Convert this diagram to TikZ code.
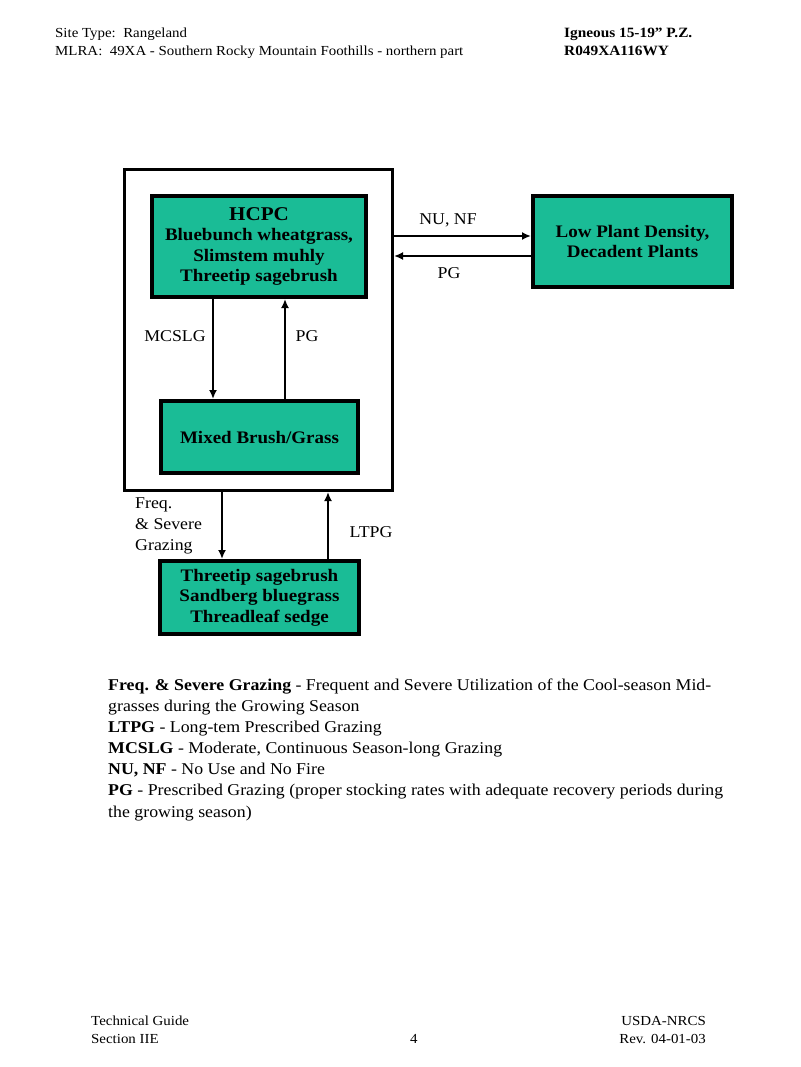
\documentclass[tikz,border=0pt]{standalone}
\usepackage{fontspec}
\setmainfont[FakeStretch=1.08]{Liberation Serif}
\usetikzlibrary{arrows.meta}
\definecolor{teal1}{RGB}{26,188,150}
\tikzset{
  state/.style={draw=black, line width=4pt, fill=teal1, align=center, font=\fontsize{17.6}{20.5}\selectfont\bfseries, inner sep=0pt},
  frame/.style={draw=black, line width=3pt},
  conn/.style={line width=2.8pt, -{Latex[length=9pt,width=8pt]}},
  lbl/.style={font=\fontsize{16.5}{21}\selectfont, inner sep=0pt},
  hdr/.style={font=\fontsize{13.8}{18}\selectfont, inner sep=0pt, anchor=base west},
  leg/.style={font=\fontsize{16.5}{21.5}\selectfont, inner sep=0pt, anchor=base west},
}
\begin{document}
\begin{tikzpicture}[x=1pt,y=-1pt]
\useasboundingbox[fill=white] (0,0) rectangle (800,1067);
% header
\node[hdr] (h1) at (55,38) {Site Type:\ \ Rangeland};
\node[hdr] (h2) at (55,56) {MLRA:\ \ 49XA - Southern Rocky Mountain Foothills - northern part};
\node[hdr,font=\fontsize{14.2}{18}\selectfont\bfseries] (h3) at (564,38) {Igneous 15-19” P.Z.};
\node[hdr,font=\fontsize{14.2}{18}\selectfont\bfseries] (h4) at (564,56) {R049XA116WY};
% outer frame
\node[frame, minimum width=268pt, minimum height=321pt, anchor=north west, inner sep=0pt] (frame) at (123,168) {};
% states
\node[state, minimum width=214pt, minimum height=101pt, anchor=north west] (hcpc) at (150,194)
  {{\fontsize{19.5}{24}\selectfont HCPC}\\Bluebunch wheatgrass,\\Slimstem muhly\\Threetip sagebrush};
\node[state, minimum width=197pt, minimum height=72pt, anchor=north west] (mixed) at (159,399) {Mixed Brush/Grass};
\node[state, minimum width=199pt, minimum height=91pt, anchor=north west] (low) at (531,194) {Low Plant Density,\\Decadent Plants};
\node[state, minimum width=199pt, minimum height=73pt, anchor=north west] (sage) at (158,559) {Threetip sagebrush\\Sandberg bluegrass\\Threadleaf sedge};
% connectors
\draw[conn] (hcpc.south -| 213,0) -- (mixed.north -| 213,0);
\draw[conn] (mixed.north -| 285,0) -- (hcpc.south -| 285,0);
\draw[conn] (frame.east |- 0,236) -- (low.west |- 0,236);
\draw[conn] (low.west |- 0,256) -- (frame.east |- 0,256);
\draw[conn] (frame.south -| 222,0) -- (sage.north -| 222,0);
\draw[conn] (sage.north -| 328,0) -- (frame.south -| 328,0);
% labels
\node[lbl] (l1) at (175,336) {MCSLG};
\node[lbl] (l2) at (307,336) {PG};
\node[lbl] (l3) at (448,220) {NU, NF};
\node[lbl] (l4) at (449,273) {PG};
\node[lbl, align=left, anchor=north west] (l5) at (135,497) {Freq.\\\& Severe\\Grazing};
\node[lbl] (l6) at (371,532) {LTPG};
% legend
\node[leg] (g1) at (108,690) {\textbf{Freq. \& Severe Grazing} - Frequent and Severe Utilization of the Cool-season Mid-};
\node[leg] (g2) at (108,711) {grasses during the Growing Season};
\node[leg] (g3) at (108,732) {\textbf{LTPG} - Long-tem Prescribed Grazing};
\node[leg] (g4) at (108,753) {\textbf{MCSLG} - Moderate, Continuous Season-long Grazing};
\node[leg] (g5) at (108,774) {\textbf{NU, NF} - No Use and No Fire};
\node[leg] (g6) at (108,795) {\textbf{PG} - Prescribed Grazing (proper stocking rates with adequate recovery periods during};
\node[leg] (g7) at (108,817) {the growing season)};
% footer
\node[hdr] (f1) at (91,1025) {Technical Guide};
\node[hdr] (f2) at (91,1043) {Section IIE};
\node[hdr] (f3) at (410,1043) {4};
\node[hdr, anchor=base east] (f4) at (706,1025) {USDA-NRCS};
\node[hdr, anchor=base east] (f5) at (706,1043) {Rev. 04-01-03};
\end{tikzpicture}
\end{document}
